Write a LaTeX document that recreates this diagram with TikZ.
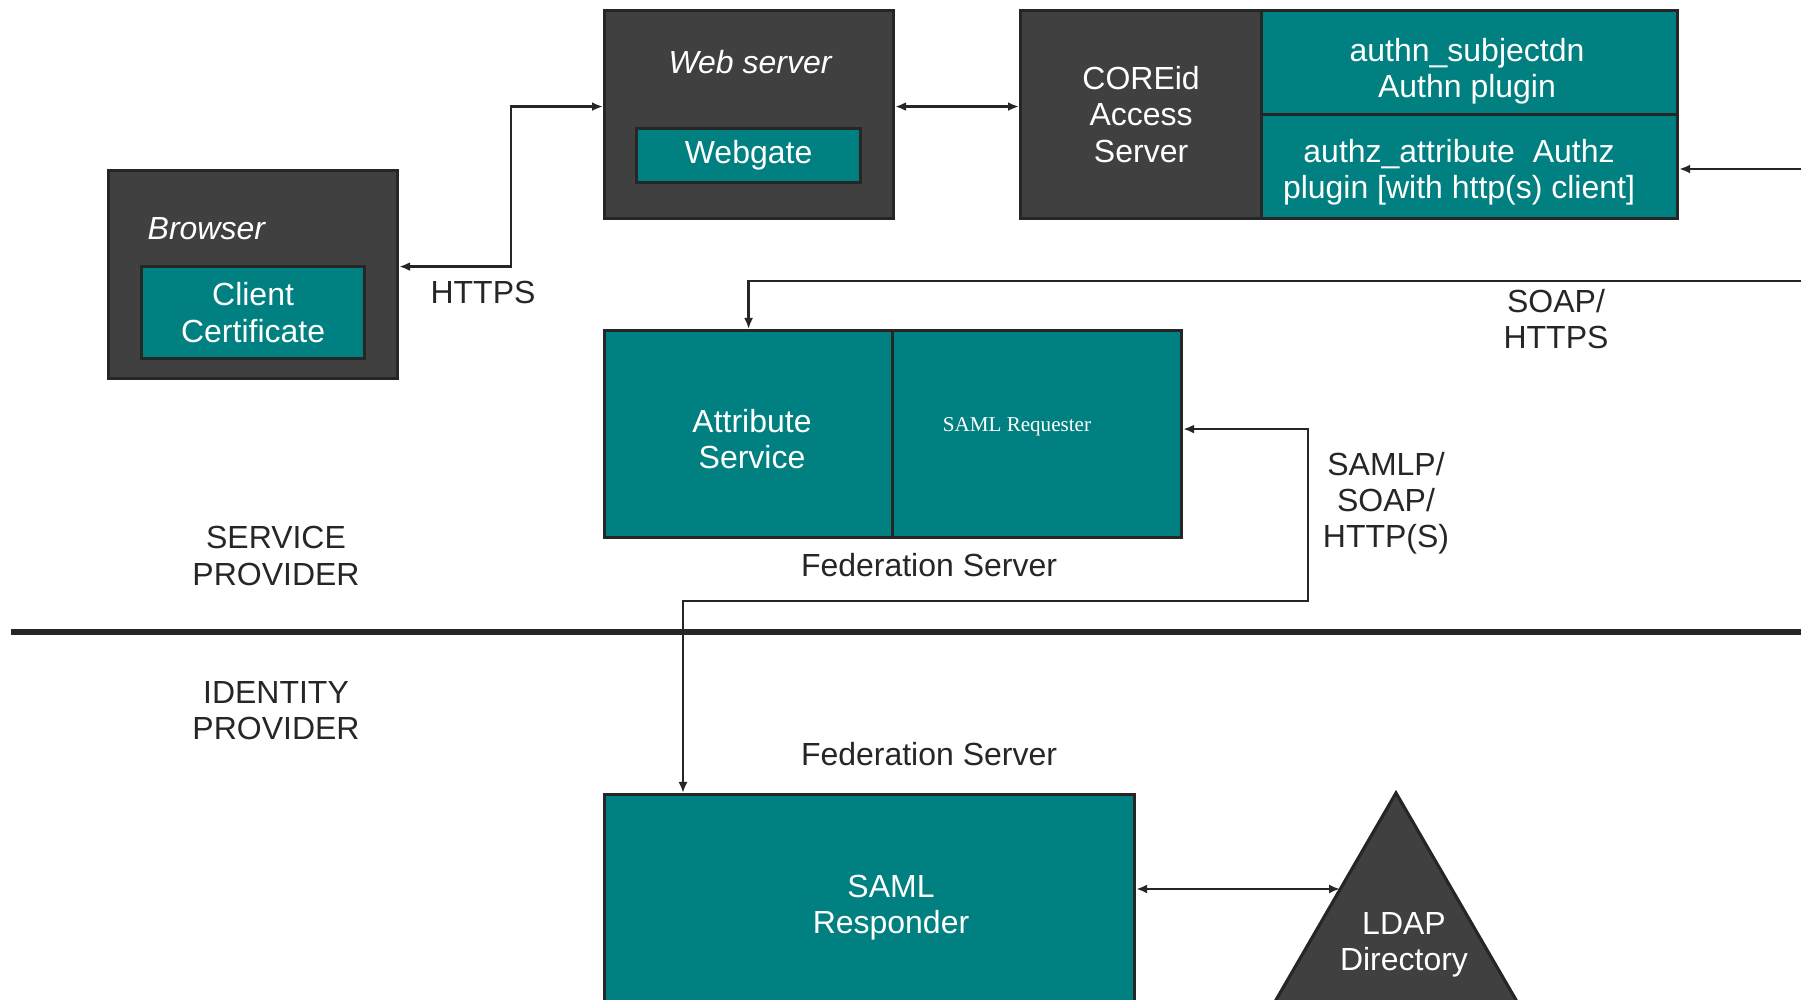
\documentclass[tikz,border=0pt]{standalone}
\usepackage{fontspec}
\setmainfont{Liberation Sans}
\newfontfamily\reqfont{Liberation Serif}
\usetikzlibrary{arrows.meta}

\definecolor{boxgray}{HTML}{404040}
\definecolor{boxteal}{HTML}{008080}
\definecolor{inkgray}{HTML}{262626}

\tikzset{
    darkbox/.style={draw=inkgray, line width=0.9pt, fill=boxgray, text=white, anchor=north west, inner sep=0pt, align=center},
    tealbox/.style={darkbox, fill=boxteal},
    lbl/.style={text=inkgray, align=center, inner sep=0pt},
    boxtxt/.style={lbl, text=white},
    conn/.style={draw=inkgray, line width=0.7pt, {Latex[length=1.1mm,width=0.9mm]}-{Latex[length=1.1mm,width=0.9mm]}},
    oneway/.style={draw=inkgray, line width=0.7pt, -{Latex[length=1.1mm,width=0.9mm]}}
}

\begin{document}
\begin{tikzpicture}[font=\fontsize{9.1}{10.3}\selectfont]
    \useasboundingbox (0,0) rectangle (18.01,-10);

    \node[darkbox, minimum width=2.89cm, minimum height=2.08cm] (browser) at (1.07,-1.69) {};
    \node[boxtxt, anchor=west] (browsertxt) at (1.47,-2.29) {\itshape Browser};
    \node[tealbox, minimum width=2.23cm, minimum height=0.92cm] (cert) at (1.40,-2.65) {Client\\Certificate};

    \node[darkbox, minimum width=2.89cm, minimum height=2.08cm] (web) at (6.03,-0.09) {};
    \node[boxtxt] (webtxt) at (7.50,-0.62) {\itshape Web server};
    \node[tealbox, minimum width=2.24cm, minimum height=0.54cm] (webgate) at (6.35,-1.27) {Webgate};

    \node[darkbox, minimum width=2.41cm, minimum height=2.08cm] (core) at (10.19,-0.09) {COREid\\Access\\Server};
    \node[tealbox, minimum width=4.16cm, minimum height=1.04cm] (authn) at (12.60,-0.09) {};
    \node[boxtxt] (authntxt) at (14.67,-0.71) {authn\_subjectdn\\Authn plugin};
    \node[tealbox, minimum width=4.16cm, minimum height=1.04cm] (authz) at (12.60,-1.13) {};
    \node[boxtxt] (authztxt) at (14.59,-1.72) {authz\_attribute\ \ Authz\\plugin [with http(s) client]};

    \node[tealbox, minimum width=2.88cm, minimum height=2.07cm] (attr) at (6.03,-3.29) {};
    \node[boxtxt] (attrtxt) at (7.52,-4.39) {Attribute\\Service};
    \node[tealbox, minimum width=2.89cm, minimum height=2.07cm] (req) at (8.91,-3.29) {};
    \node[boxtxt, font=\reqfont\fontsize{6}{7}\selectfont] (reqtxt) at (10.17,-4.27) {SAML Requester};
    \node[lbl] (fedsp) at (9.29,-5.65) {Federation Server};

    \node[tealbox, minimum width=5.30cm, minimum height=2.6cm] (resp) at (6.03,-7.93) {};
    \node[boxtxt] (resptxt) at (8.91,-9.08) {SAML\\Responder};
    \node[lbl] (fedidp) at (9.29,-7.54) {Federation Server};

    \filldraw[draw=inkgray, line width=0.9pt, fill=boxgray] (13.96,-7.93) -- (15.45,-10.5) -- (12.47,-10.5) -- cycle;
    \coordinate (ldap) at (13.40,-8.89);
    \node[boxtxt] (ldaptxt) at (14.04,-9.45) {LDAP\\Directory};

    \draw[inkgray, line width=1.5pt] (0.11,-6.32) -- (18.01,-6.32);
    \node[lbl] (sp) at (2.76,-5.56) {SERVICE\\PROVIDER};
    \node[lbl] (idp) at (2.76,-7.11) {IDENTITY\\PROVIDER};

    \coordinate (soapin) at (18.01,-1.69);
    \coordinate (soapout) at (18.01,-2.81);
    \draw[conn] ([yshift=0.8mm]browser.east) -- ++(1.12,0) |- ([yshift=0.8mm]web.west);
    \draw[conn] ([yshift=0.8mm]web.east) -- ([yshift=0.8mm]core.west);
    \draw[oneway] (soapin) -- (soapin -| authz.east);
    \draw[oneway] (soapout) -| (attr.north);
    \draw[conn] ([yshift=0.5mm]req.east) -| (13.08,-6.01) -| ([xshift=8mm]resp.north west);
    \draw[conn] (ldap -| resp.east) -- (ldap);

    \node[lbl] (https) at (4.83,-2.93) {HTTPS};
    \node[lbl] (soap) at (15.56,-3.19) {SOAP/\\HTTPS};
    \node[lbl] (samlp) at (13.86,-5.03) {SAMLP/\\SOAP/\\HTTP(S)};
\end{tikzpicture}
\end{document}
